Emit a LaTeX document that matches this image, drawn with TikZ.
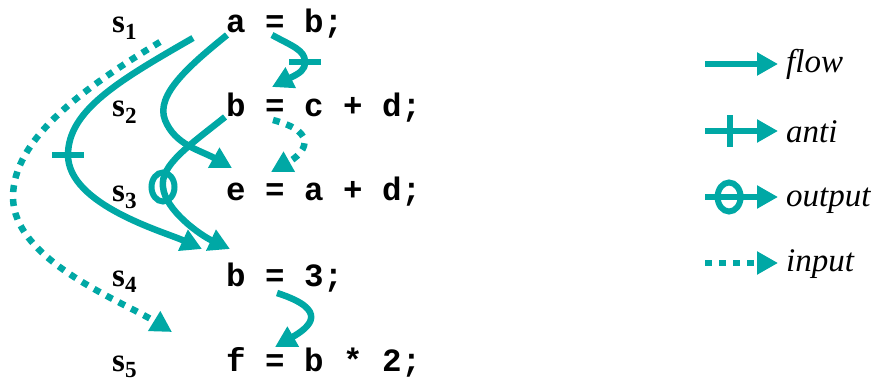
\documentclass[tikz,border=0pt]{standalone}
\usepackage{fontspec}
\setmainfont{Liberation Serif}
\setmonofont{Liberation Mono}
\usetikzlibrary{arrows.meta,shapes.geometric}
\definecolor{depcol}{RGB}{0,168,165}
\newcommand\codefont{\fontsize{32.5}{38}\selectfont\ttfamily\bfseries}
\newcommand\stmtfont{\fontsize{33}{38}\selectfont\bfseries}
\newcommand\legfont{\fontsize{33}{38}\selectfont\itshape}
\tikzset{
  dep/.style={draw=depcol,line width=6.5pt,-{Triangle[length=21pt,width=22pt]}},
  flowarrow/.style={dep},
  inputarrow/.style={dep,dash pattern=on 7pt off 7pt},
  tickmark/.style={rectangle,fill=depcol,minimum width=6.5pt,minimum height=32pt,inner sep=0pt,sloped},
  ring/.style={ellipse,draw=depcol,line width=6pt,minimum width=23pt,minimum height=29pt,inner sep=0pt},
  codeline/.style={anchor=base west,inner sep=0pt,font=\codefont},
  stmt/.style={anchor=base west,inner sep=0pt,font=\stmtfont},
  legtext/.style={anchor=base west,inner sep=0pt,font=\legfont}
}
\begin{document}
\begin{tikzpicture}[x=1pt,y=-1pt]
\useasboundingbox (0,0) rectangle (877,379);

% statements
\node[stmt] (s1) at (112,33) {s\textsubscript{1}};
\node[stmt] (s2) at (112,117) {s\textsubscript{2}};
\node[stmt] (s3) at (112,202) {s\textsubscript{3}};
\node[stmt] (s4) at (112,286) {s\textsubscript{4}};
\node[stmt] (s5) at (112,371) {s\textsubscript{5}};

\node[codeline] (l1) at (226,33) {a = b;};
\node[codeline] (l2) at (226,117) {b = c + d;};
\node[codeline] (l3) at (226,201) {e = a + d;};
\node[codeline] (l4) at (226,286) {b = 3;};
\node[codeline] (l5) at (226,371) {f = b * 2;};

% end points of the dependences
\coordinate (a1) at (272,35);  \coordinate (b2) at (272,87);
\coordinate (c2) at (273,120); \coordinate (e3) at (271,172);
\coordinate (b4) at (277,293); \coordinate (f5) at (275,347);
\coordinate (a1f) at (227,35); \coordinate (e3f) at (232,168);
\coordinate (b1a) at (193,38); \coordinate (b4a) at (202,249);
\coordinate (b2o) at (225,117); \coordinate (b4o) at (230,249);
\coordinate (b1i) at (160,42); \coordinate (b5i) at (172,332);

% dependences
\draw[dep] (a1) .. controls (292,46) and (305,50) .. (305,62) node[pos=1,tickmark]{}
  .. controls (305,70) and (300,73) .. (b2);
\draw[inputarrow] (c2) .. controls (322,133) and (303,154) .. (e3);
\draw[flowarrow] (b4) .. controls (330,310) and (310,327) .. (f5);
\draw[flowarrow] (a1f) .. controls (190,65) and (155,95) .. (165,120)
  .. controls (175,145) and (200,150) .. (e3f);
\draw[dep] (b1a) .. controls (120,80) and (68,110) .. (68,155) node[pos=1,tickmark]{}
  .. controls (68,205) and (165,232) .. (b4a);
\draw[dep] (b2o) .. controls (190,145) and (160,165) .. (163,187) node[pos=1,ring]{}
  .. controls (165,210) and (200,235) .. (b4o);
\draw[inputarrow] (b1i) .. controls (80,90) and (13,140) .. (13,197)
  .. controls (13,260) and (120,300) .. (b5i);

% legend
\node[legtext] (lflow) at (786,73) {flow};
\node[legtext] (lanti) at (786,143) {anti};
\node[legtext] (loutput) at (786,207) {output};
\node[legtext] (linput) at (786,271) {input};

\coordinate (fs) at (705,64);  \coordinate (fe) at (778,64);
\coordinate (as) at (705,131); \coordinate (ae) at (778,131);
\coordinate (os) at (705,197); \coordinate (oe) at (778,197);
\coordinate (is) at (705,263); \coordinate (ie) at (778,263);

\draw[flowarrow] (fs) -- (fe);
\draw[dep] (as) -- (ae) node[pos=.34,tickmark]{};
\draw[dep] (os) -- (oe) node[pos=.33,ring]{};
\draw[inputarrow] (is) -- (ie);
\end{tikzpicture}
\end{document}
